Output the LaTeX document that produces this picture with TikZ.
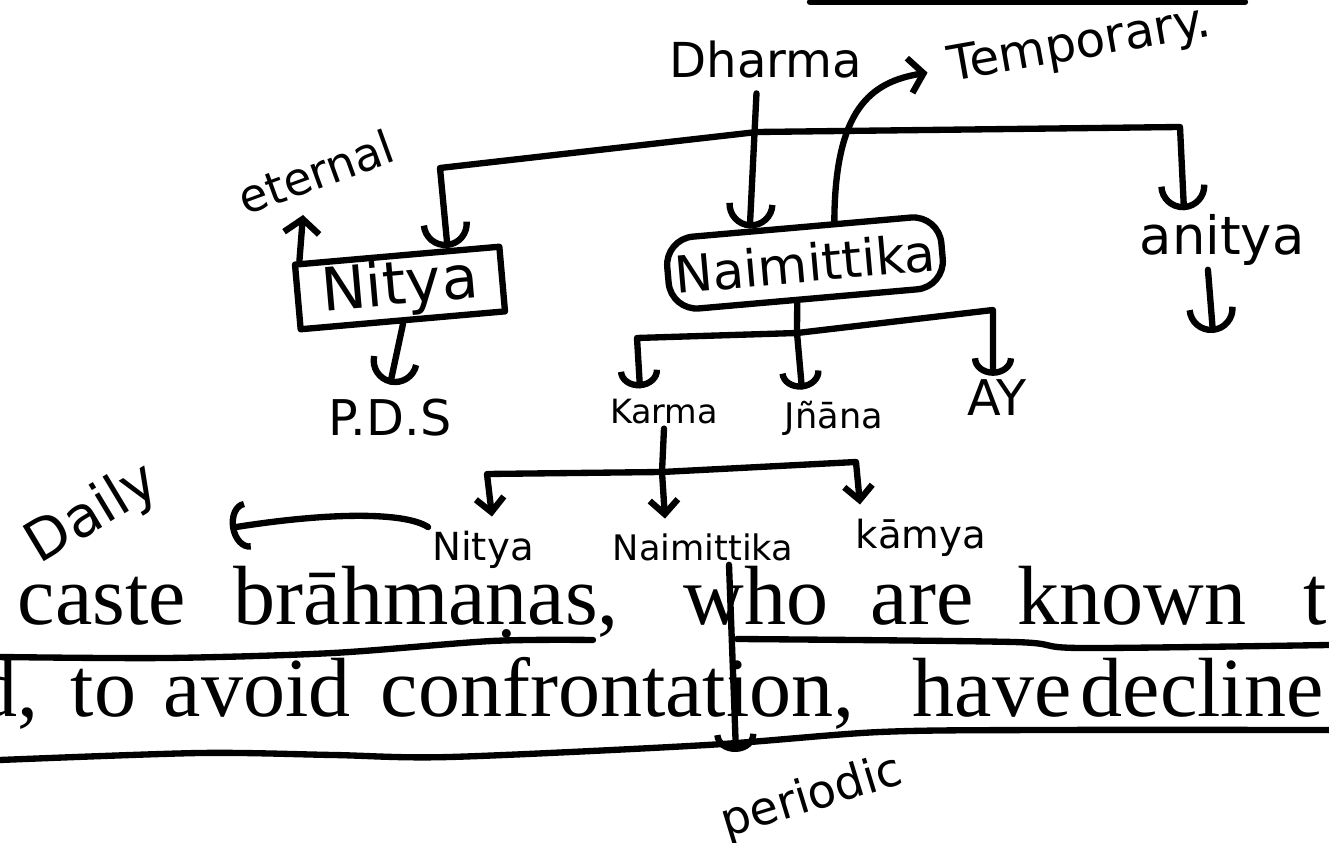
\documentclass[tikz,border=0pt]{standalone}
\usepackage{fontspec}
\setmainfont{Liberation Serif}
\newfontfamily\handfont{DejaVu Sans}
\usetikzlibrary{arrows.meta}

\tikzset{
  pen/.style={line width=1.8pt, line cap=round, line join=round},
  arc tip/.style={pen, -{Arc Barb[length=7pt, width=14pt]}},
  small tip/.style={pen, -{Arc Barb[length=5pt, width=12pt]}},
  tiny tip/.style={pen, -{Straight Barb[length=4pt, width=8pt]}},
  barb tip/.style={pen, -{Straight Barb[length=4pt, width=10pt]}},
  hand/.style={font=\handfont\fontsize{#1}{#1}\selectfont, inner sep=1pt},
  handbox/.style={draw, pen, rotate=5},
  print/.style={font=\fontsize{23.9}{28}\selectfont, anchor=base west, inner sep=0pt}
}

\begin{document}
\begin{tikzpicture}[x=0.01cm, y=-0.01cm]
  \useasboundingbox (0,0) rectangle (1329,843);
  \clip (0,0) rectangle (1329,843);

  % printed page lines
  \foreach \px/\word in {17/caste, 233/{brāhmaṇas,}, 683/who, 870/are, 1017/known, 1303/t}
    \node[print] (top-\px) at (\px,625) {\word};
  \foreach \px/\word in {-25/{d,}, 70/to, 163/avoid, 380/{confrontation,}, 912/have, 1080/decline}
    \node[print] (bot-\px) at (\px,717) {\word};

  % handwritten notes
  \node[hand=13.7] (dharma) at (766,60) {Dharma};
  \node[hand=13.8, rotate=10] (temp) at (1080,46) {Temporary.};
  \node[hand=13, rotate=20] (eternal) at (316,172) {eternal};
  \node[handbox, hand=17, minimum width=2.05cm, minimum height=0.64cm] (nityabox) at (400,288) {Nitya};
  \node[handbox, hand=14.5, rounded corners=8pt, minimum width=2.75cm, minimum height=0.72cm] (naimbox) at (805,263) {Naimittika};
  \node[hand=15] (anitya) at (1222,240) {anitya};
  \node[hand=14] (pds) at (390,418) {P.D.S};
  \node[hand=9.5] (karma) at (664,412) {Karma};
  \node[hand=10] (jnana) at (834,418) {Jñāna};
  \node[hand=14] (ay) at (997,398) {AY};
  \node[hand=11] (nitya) at (483,550) {Nitya};
  \node[hand=10] (naim) at (703,547) {Naimittika};
  \node[hand=11] (kamya) at (921,538) {kāmya};
  \node[hand=16, rotate=31] (daily) at (93,515) {Daily};
  \node[hand=13.2, rotate=17] (periodic) at (812,798) {periodic};

  \coordinate (dsplit) at (757,132);
  \coordinate (nsplit) at (797,333);
  \coordinate (ksplit) at (662,472);
  \coordinate (eternaltip) at (303,215);
  \coordinate (anityatip) at (1213,333);
  \coordinate (dailytip) at (230,528);
  \coordinate (periodtip) at (736,752);

  % Dharma and its three branches
  \draw[arc tip, shorten <=3pt] (dharma.south -| dsplit) -- (naimbox.143);
  \draw[arc tip] (dsplit) -- (440,168) -- (nityabox.35);
  \draw[arc tip] (dsplit) -- (1180,127) -- (1184,0 |- anitya.north);
  \draw[barb tip, shorten >=5pt] (naimbox.50) .. controls (835,110) and (870,82) .. (temp.west);
  \draw[arc tip] ([xshift=-4pt]anitya.south) -- (anityatip);

  % Nitya
  \draw[barb tip] (nityabox.160) -- (eternaltip);
  \draw[arc tip] (nityabox.south) -- ([yshift=3pt]pds.north);

  % Naimittika
  \draw[pen] (naimbox.254) -- (nsplit);
  \draw[small tip] (nsplit) -- (637,338) -- ([yshift=2pt]640,0 |- karma.north);
  \draw[small tip] (nsplit) -- ([yshift=2pt]802,0 |- jnana.north);
  \draw[small tip] (nsplit) -- (993,310) -- (993,0 |- ay.north);

  % Karma
  \draw[pen] (karma.south) -- (ksplit);
  \draw[tiny tip] (ksplit) -- (487,474) -- ([yshift=3pt]492,0 |- nitya.north);
  \draw[tiny tip] (ksplit) -- ([yshift=3pt]665,0 |- naim.north);
  \draw[tiny tip] (ksplit) -- (856,462) -- ([yshift=3pt]860,0 |- kamya.north);
  \draw[pen, -{Arc Barb[length=5pt, width=14pt]}] (nitya.north west) .. controls (405,512) and (330,512) .. (dailytip);
  \draw[small tip] (729,0 |- naim.south) -- (periodtip);

  % strokes over the page
  \draw[pen] (810,2) -- (1245,2);
  \draw[pen] plot[smooth] coordinates {(0,657) (167,658) (333,653) (492,641) (593,640)};
  \draw[pen] plot[smooth] coordinates {(737,639) (1013,642) (1080,648) (1329,645)};
  \draw[pen] plot[smooth] coordinates {(0,760) (200,753) (333,755) (450,757) (707,745) (880,732) (1047,730) (1329,730)};
\end{tikzpicture}
\end{document}
